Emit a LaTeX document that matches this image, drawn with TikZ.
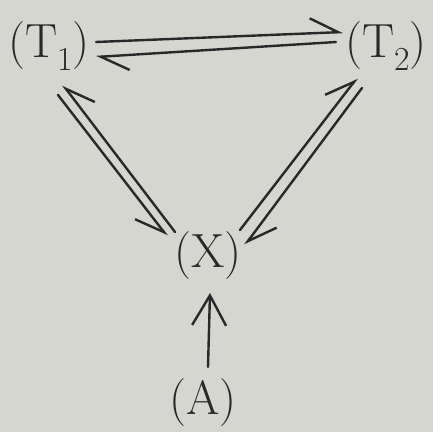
\documentclass[tikz,border=0pt]{standalone}
\usepackage{fontspec}
\usepackage{tikz}
\usetikzlibrary{arrows.meta}
\definecolor{paper}{RGB}{214,214,208}
\definecolor{ink}{RGB}{40,40,40}

\begin{document}
\begin{tikzpicture}[x=1pt, y=-1pt,
  every node/.style={font=\fontsize{48}{52}\selectfont, text=ink, inner sep=0pt},
  stroke/.style={draw=ink, line width=2.4pt, line cap=round},
  hleft/.style={stroke, -{Straight Barb[left, length=28pt, width=30pt]}},
  hright/.style={stroke, -{Straight Barb[right, length=28pt, width=30pt]}},
  full/.style={stroke, -{Straight Barb[length=30pt, width=34pt]}}]
\fill[paper] (0,0) rectangle (433,432);
\useasboundingbox (0,0) rectangle (433,432);
\node (t1) at (49,46) {(T\textsubscript{1})};
\node (t2) at (386,46) {(T\textsubscript{2})};
\node (x) at (208,256) {(X)};
\node (a) at (203,403) {(A)};
% top pair
\draw[hleft] ([shift={(47,-4)}]t1.center) -- ([shift={(-43,-14)}]t2.center);
\draw[hleft] ([shift={(-50,-4)}]t2.center) -- ([shift={(47,11)}]t1.center);
% left pair
\draw[hright] ([shift={(9,49)}]t1.center) -- ([shift={(-41,-20)}]x.center);
\draw[hright] ([shift={(-33,-24)}]x.center) -- ([shift={(14,39)}]t1.center);
% right pair
\draw[hleft] ([shift={(32,-26)}]x.center) -- ([shift={(-29,32)}]t2.center);
\draw[hleft] ([shift={(-24,42)}]t2.center) -- ([shift={(37,-11)}]x.center);
% A to X
\draw[full] ([shift={(5,-36)}]a.center) -- ([shift={(2,37)}]x.center);
\end{tikzpicture}
\end{document}
